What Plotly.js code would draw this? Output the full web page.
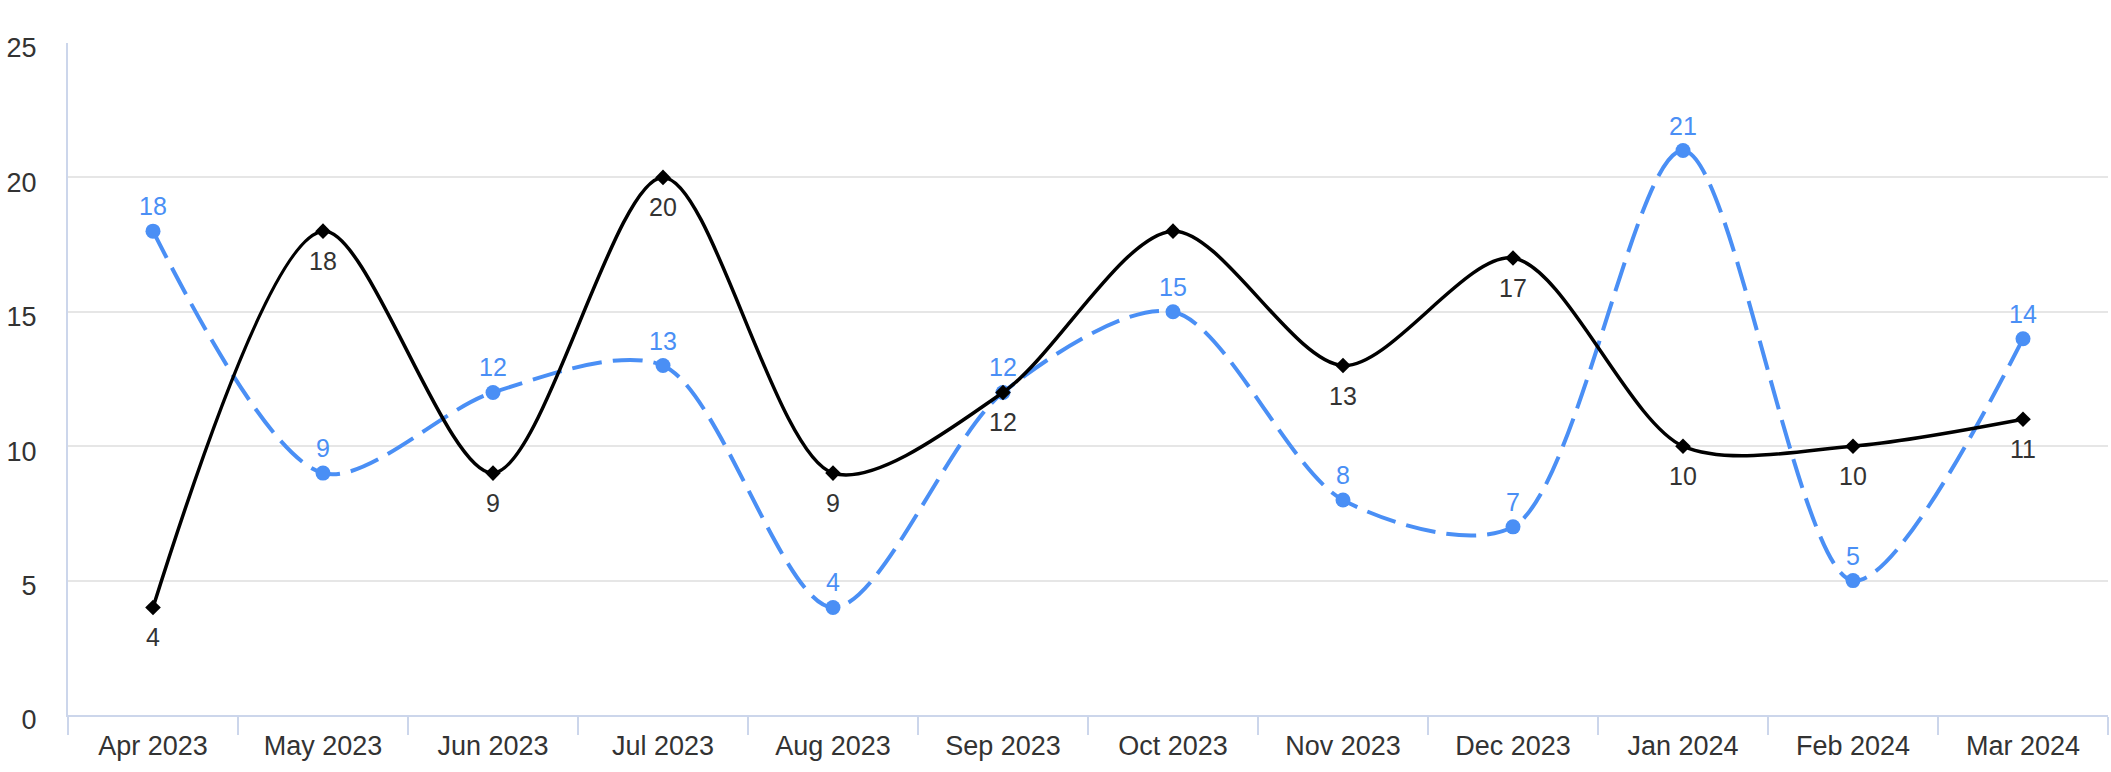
<!DOCTYPE html>
<html>
<head>
<meta charset="utf-8">
<script src="https://cdn.plot.ly/plotly-3.0.1.min.js"></script>
<style>
  html, body { margin: 0; padding: 0; background: #ffffff; }
  #chart { width: 2111px; height: 772px; }
</style>
</head>
<body>
<div id="chart"></div>
<script>
const months = ["Apr 2023", "May 2023", "Jun 2023", "Jul 2023", "Aug 2023", "Sep 2023",
                "Oct 2023", "Nov 2023", "Dec 2023", "Jan 2024", "Feb 2024", "Mar 2024"];
const blackSeries = [4, 18, 9, 20, 9, 12, 18, 13, 17, 10, 10, 11];
const blueSeries = [18, 9, 12, 13, 4, 12, 15, 8, 7, 21, 5, 14];
const hiddenBlackLabels = ["Oct 2023"];
const yTicks = [0, 5, 10, 15, 20, 25];

const BLUE = "#4a8ff5";
const TEXT = "#333333";
const FONT = "Liberation Sans, Arial, sans-serif";

const traces = [
  {
    x: months, y: blueSeries, type: "scatter", mode: "lines+markers",
    line: { color: BLUE, width: 4, shape: "spline", smoothing: 0.85, dash: "30px,11px" },
    marker: { color: BLUE, size: 15, symbol: "circle" },
    cliponaxis: false, hoverinfo: "x+y", showlegend: false
  },
  {
    x: months, y: blackSeries, type: "scatter", mode: "lines+markers",
    line: { color: "#000000", width: 3.5, shape: "spline", smoothing: 0.85 },
    marker: { color: "#000000", size: 12, symbol: "diamond" },
    cliponaxis: false, hoverinfo: "x+y", showlegend: false
  }
];

const annotations = [];
months.forEach((m, i) => {
  annotations.push({
    x: m, y: blueSeries[i], xref: "x", yref: "y", text: String(blueSeries[i]),
    showarrow: false, yshift: 25, xanchor: "center", yanchor: "middle",
    font: { family: FONT, size: 25, color: BLUE }
  });
  if (!hiddenBlackLabels.includes(m)) {
    annotations.push({
      x: m, y: blackSeries[i], xref: "x", yref: "y", text: String(blackSeries[i]),
      showarrow: false, yshift: -30, xanchor: "center", yanchor: "middle",
      font: { family: FONT, size: 25, color: TEXT }
    });
  }
});

const layout = {
  width: 2111, height: 772,
  margin: { l: 68, r: 3, t: 43, b: 57, pad: 0 },
  paper_bgcolor: "#ffffff", plot_bgcolor: "#ffffff",
  font: { family: FONT, size: 27, color: TEXT },
  showlegend: false,
  annotations: annotations,
  xaxis: {
    type: "category", range: [-0.5, months.length - 0.5],
    showline: true, linecolor: "#ccd6eb", linewidth: 2,
    ticks: "outside", tickson: "boundaries", ticklen: 18, tickwidth: 2, tickcolor: "#ccd6eb",
    showgrid: false, zeroline: false, ticklabelstandoff: 6,
    tickfont: { family: FONT, size: 27, color: TEXT },
    fixedrange: true
  },
  yaxis: {
    range: [0, 25], tickmode: "array", tickvals: yTicks, ticktext: yTicks.map(String),
    showline: true, linecolor: "#ccd6eb", linewidth: 2,
    showgrid: true, gridcolor: "#e6e6e6", gridwidth: 2,
    zeroline: false, ticks: "", ticklabelstandoff: 24, ticklabelshift: 5,
    tickfont: { family: FONT, size: 27, color: TEXT },
    fixedrange: true
  }
};

Plotly.newPlot("chart", traces, layout, { displayModeBar: false, staticPlot: true });
</script>
</body>
</html>
